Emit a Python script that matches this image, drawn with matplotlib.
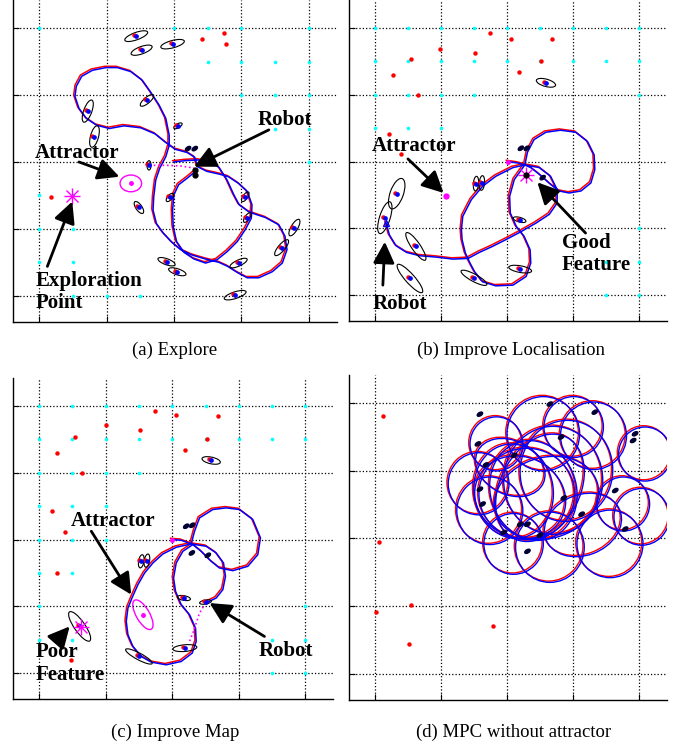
import matplotlib
matplotlib.use('Agg')
import matplotlib.pyplot as plt
from matplotlib.patches import Ellipse
from matplotlib.transforms import offset_copy

plt.rcParams['font.family'] = ['Liberation Serif', 'DejaVu Serif']

# ---------------- (a) Explore ----------------
a_path = [(20.0, 20.0), (21.7, 20.2), (23.6, 20.3), (25.3, 20.0), (26.7, 19.2), (27.9, 17.3),
          (28.9, 15.1), (29.7, 13.6), (31.2, 12.5), (33.6, 11.7), (35.6, 10.6), (36.5, 8.9),
          (36.8, 6.9), (36.1, 4.9), (34.6, 3.6), (32.6, 2.7), (30.9, 2.7), (29.4, 3.5),
          (28.0, 4.4), (26.7, 5.0), (24.7, 5.5), (22.7, 6.1), (21.0, 6.9), (19.7, 8.0),
          (18.4, 9.4), (17.4, 10.8), (16.9, 12.8), (17.0, 14.8), (17.3, 17.3), (17.9, 19.1),
          (18.8, 20.8), (19.3, 22.5), (19.3, 24.0), (18.8, 26.5), (17.8, 28.5), (16.5, 30.5),
          (15.3, 32.2), (13.6, 33.5), (11.6, 34.1), (9.9, 34.1), (7.9, 33.7), (6.3, 32.8),
          (5.5, 31.3), (5.3, 29.8), (5.9, 28.0), (7.0, 26.5), (8.5, 25.5), (10.4, 25.0),
          (12.6, 25.4), (15.1, 25.1), (17.2, 24.2), (18.8, 22.9), (20.2, 21.9), (22.0, 21.4),
          (23.1, 20.7), (23.5, 19.3), (24.9, 18.6), (26.7, 18.2), (28.1, 17.8), (29.6, 16.8),
          (30.9, 15.6), (31.6, 13.6), (31.5, 11.6), (30.6, 9.9), (29.4, 8.1), (27.9, 6.6),
          (26.4, 5.4), (24.7, 4.9), (23.0, 5.5), (21.5, 6.5), (20.4, 8.1), (19.9, 10.3),
          (19.8, 12.8), (20.0, 15.1), (20.7, 16.6), (22.0, 17.6), (23.2, 18.6)]
# ellipses: x, y, width, height, angle
a_ell = [(14.4, 38.8, 3.6, 1.1, 20), (15.2, 36.7, 3.3, 1.1, 20), (19.8, 37.6, 3.6, 1.1, 15),
         (7.2, 27.6, 3.5, 1.2, 70), (8.2, 23.8, 3.3, 1.2, 75), (16.0, 29.2, 2.5, 0.9, 40),
         (20.6, 25.4, 1.4, 0.6, 30), (16.3, 19.5, 1.4, 0.6, 90), (19.4, 14.7, 1.5, 0.7, 50),
         (14.8, 13.2, 2.1, 0.9, -55), (30.6, 14.8, 1.7, 0.7, 55), (30.9, 11.7, 1.7, 0.7, 55),
         (37.9, 10.2, 2.8, 1.0, 60), (36.0, 7.2, 3.0, 1.0, 50), (18.9, 5.1, 2.7, 0.9, -20),
         (20.5, 3.6, 2.7, 0.9, -18), (29.6, 4.9, 2.8, 0.9, 25), (29.1, 0.1, 3.4, 1.0, 18)]
a_dark = [(22.1, 22.0), (23.1, 22.0)]
a_robot = [(23.2, 18.8), (23.2, 18.0)]
a_red = [(24.1, 38.4), (27.4, 39.3), (27.8, 37.6), (1.7, 14.8)]
a_cyan = [(0, 40), (20, 40), (25, 40), (30, 40), (40, 40), (25, 35), (30, 35), (35, 35), (40, 35),
          (30, 30), (35, 30), (40, 30), (35, 25), (40, 25), (40, 20), (0, 15), (5, 15), (0, 10),
          (5, 10), (0, 5), (5, 5), (0, 0), (5, 0), (10, 0), (15, 0)]
a_plan = [(17.0, 19.5), (19.0, 19.5), (21.0, 19.4), (23.0, 19.1)]
a_attr = (13.6, 16.8, 3.2, 2.5, 0)
a_explore = (4.8, 14.9)

# ---------------- (b) Improve Localisation ----------------
b_path = [(20.1, 20.0), (21.6, 19.8), (22.7, 19.5), (23.1, 21.4), (24.1, 23.3), (25.9, 24.4),
          (28.1, 24.7), (30.4, 24.4), (32.2, 23.0), (33.2, 21.0), (33.3, 18.8), (32.7, 16.8),
          (31.2, 15.6), (29.4, 15.3), (27.9, 15.6), (26.6, 16.6), (24.9, 18.1), (23.6, 19.1),
          (22.7, 19.5), (21.1, 17.3), (20.4, 14.8), (20.5, 12.3), (21.4, 10.3), (22.6, 8.8),
          (23.5, 6.8), (23.6, 4.8), (22.9, 2.8), (20.9, 1.5), (18.3, 1.4), (16.3, 2.0),
          (15.1, 3.5), (14.4, 4.8), (13.7, 6.3), (13.2, 8.3), (13.1, 9.8), (13.3, 11.8),
          (14.6, 14.3), (16.3, 16.3), (18.3, 17.8), (20.9, 19.1), (22.7, 19.5), (24.9, 19.1),
          (26.6, 17.8), (27.6, 15.8), (27.6, 13.8), (26.4, 12.1), (24.4, 10.8), (22.1, 9.5),
          (19.8, 8.3), (17.8, 7.3), (15.8, 6.4), (14.1, 5.5), (11.8, 5.4), (9.3, 5.7),
          (6.8, 5.9), (4.8, 6.4), (3.2, 7.4), (2.2, 9.0), (1.7, 10.8)]
b_ell = [(25.9, 31.8, 3.0, 1.1, -15), (3.3, 15.2, 4.8, 2.0, 70), (1.5, 11.6, 5.0, 1.6, 72),
         (6.2, 7.3, 5.0, 1.3, -55), (5.3, 2.5, 5.6, 1.4, -48), (15.0, 2.6, 4.4, 1.1, -28),
         (22.0, 3.9, 3.5, 1.0, -10), (21.9, 11.3, 2.0, 0.7, -15), (15.3, 16.7, 2.2, 0.8, 85),
         (16.2, 16.8, 2.2, 0.8, 85)]
b_dark = [(22.1, 22.0), (23.0, 22.0), (25.4, 17.6)]
b_red = [(17.4, 39.2), (20.6, 38.4), (26.8, 38.4), (9.9, 36.9), (15.1, 36.3), (5.4, 35.3),
         (2.8, 32.9), (6.5, 29.9), (21.8, 33.4), (25.1, 35.1), (2.1, 24.2), (3.9, 21.1)]
b_cyan = ([(x, 40) for x in range(0, 45, 5)] + [(x, 35) for x in range(0, 45, 5)]
          + [(0, 30), (5, 30), (10, 30), (15, 30), (40, 30), (0, 25), (5, 25), (10, 25),
             (40, 10), (35, 5), (40, 5), (35, 0), (40, 0)])
b_attr = (10.8, 14.9)
b_good = (22.9, 18.0)

# ---------------- (c) Improve Map ----------------
c_path = [(19.95, 20.0), (21.35, 19.9), (22.85, 19.35), (23.35, 21.25), (24.1, 23.25),
          (26.1, 24.5), (28.1, 24.75), (30.1, 24.5), (32.1, 23.0), (33.25, 20.25),
          (32.85, 17.75), (31.35, 16.0), (29.1, 15.35), (27.1, 15.75), (25.85, 16.75),
          (24.35, 18.25), (23.1, 19.25), (21.6, 18.25), (20.6, 16.5), (20.2, 14.25),
          (20.5, 12.25), (21.35, 10.25), (22.6, 8.75), (23.5, 6.75), (23.6, 4.75), (23.0, 3.0),
          (21.35, 1.75), (19.1, 1.25), (16.85, 1.65), (15.35, 2.5), (14.1, 4.0), (13.35, 5.75),
          (13.1, 7.75), (13.35, 9.75), (14.0, 11.35), (14.85, 13.25), (15.85, 15.0),
          (17.1, 16.5), (18.6, 17.85), (20.6, 18.85), (22.85, 19.35), (25.1, 19.0), (26.6, 18.0),
          (27.7, 16.5), (28.0, 14.5), (27.6, 12.5), (26.6, 11.25), (25.35, 10.65)]
c_ell = [(25.85, 31.85, 2.8, 1.0, -12), (15.35, 16.75, 2.0, 0.8, 80), (16.2, 16.85, 2.0, 0.8, 80),
         (21.75, 11.25, 2.0, 0.7, -10), (25.0, 10.65, 1.8, 0.6, 10), (21.9, 3.75, 3.6, 1.0, 5),
         (15.0, 2.5, 4.5, 1.0, -28), (6.1, 7.0, 5.3, 1.6, -55)]
c_dark = [(22.1, 22.0), (23.0, 22.15), (22.95, 18.0), (25.35, 17.65)]
c_red = [(17.35, 39.25), (20.6, 38.6), (26.85, 38.5), (10.0, 37.1), (15.1, 36.35), (5.4, 35.4),
         (2.7, 33.0), (6.5, 29.9), (21.85, 33.4), (25.25, 35.1), (2.0, 24.25), (3.85, 21.1),
         (2.7, 15.0), (4.85, 1.9)]
c_cyan = ([(x, 40) for x in range(0, 45, 5)] + [(x, 35) for x in range(0, 45, 5)]
          + [(0, 30), (5, 30), (10, 30), (15, 30), (0, 25), (5, 25), (10, 25), (0, 20), (5, 20),
             (10, 20), (0, 15), (5, 15), (0, 10), (40, 10), (0, 5), (5, 5), (35, 5), (40, 5),
             (35, 0), (40, 0)])
c_plan = [(25.0, 10.5), (24.1, 9.0), (23.6, 7.5), (23.1, 6.0), (22.5, 4.5)]
c_attr = (15.6, 8.75, 5.0, 2.0, -60)
c_poor = (6.35, 6.85)

# ---------------- (d) MPC without attractor ----------------
d_loops = [(15.7, 28.1, 9.2, 9.2, 0), (17.4, 24.1, 10.0, 10.0, 0), (21.0, 19.2, 9.0, 9.0, 0),
           (26.5, 18.7, 10.4, 10.4, 0), (35.6, 19.2, 10.0, 10.0, 0), (40.4, 23.2, 8.4, 8.4, 0),
           (40.9, 32.5, 8.0, 8.0, 0), (25.5, 35.5, 11.0, 11.0, 0), (33.1, 35.2, 10.0, 10.0, 0),
           (18.4, 34.0, 8.0, 8.0, 0), (37.6, 25.1, 8.0, 8.0, 0), (30.1, 36.5, 9.0, 9.0, 0),
           (23.0, 26.6, 14.5, 13.5, 0), (24.0, 27.1, 13.0, 15.0, 20), (22.0, 26.1, 14.0, 12.0, -20),
           (27.0, 28.6, 15.0, 16.0, 0), (25.0, 27.5, 12.0, 17.0, -30), (21.0, 27.0, 12.0, 14.0, 10),
           (26.0, 26.0, 16.0, 12.0, 15), (29.0, 30.0, 14.0, 15.0, -10), (31.5, 22.0, 12.0, 9.0, 20),
           (20.5, 30.5, 11.0, 8.0, -25)]
d_dark = [(15.9, 38.4), (26.5, 39.9), (33.3, 38.7), (39.4, 35.5), (39.1, 34.5), (28.2, 35.0),
          (15.6, 34.0), (21.1, 32.3), (16.8, 30.9), (15.9, 27.3), (16.3, 25.1), (28.6, 26.0),
          (36.4, 27.1), (31.3, 23.6), (37.9, 21.4), (19.5, 20.9), (22.0, 22.1), (23.1, 22.1),
          (25.0, 20.5), (23.1, 18.1)]
d_red = [(1.25, 38.2), (0.65, 19.45), (5.4, 10.1), (0.15, 9.1), (5.1, 4.4), (17.9, 7.0)]

grid_vals = [0, 10, 20, 30, 40]


def setup(ax):
    ax.set_xlim(-3.9, 44.2)
    ax.set_ylim(-3.9, 44.2)
    ax.set_xticks(grid_vals)
    ax.set_yticks(grid_vals)
    ax.set_xticklabels([])
    ax.set_yticklabels([])
    ax.tick_params(direction='in', length=4, width=0.8)
    ax.grid(True, color='k', linestyle=':', linewidth=0.9)
    for s in ['top', 'right']:
        ax.spines[s].set_visible(False)
    for s in ['left', 'bottom']:
        ax.spines[s].set_linewidth(1.0)


def draw_path(ax, path):
    xs = [p[0] for p in path]
    ys = [p[1] for p in path]
    shifted = offset_copy(ax.transData, fig=ax.figure, x=-1.3, y=1.3, units='dots')
    ax.plot(xs, ys, color='red', lw=1.1, transform=shifted, zorder=3)
    ax.plot(xs, ys, color='blue', lw=1.1, zorder=4)


def draw_landmarks(ax, ells, red, cyan, dark):
    if cyan:
        ax.plot([p[0] for p in cyan], [p[1] for p in cyan], 'o', color='cyan', ms=2.6, mec='none', zorder=2)
    if red:
        ax.plot([p[0] for p in red], [p[1] for p in red], 'o', color='red', ms=3.2, mec='none', zorder=5)
    shifted = offset_copy(ax.transData, fig=ax.figure, x=-2, y=1, units='dots')
    for (x, y, w, h, ang) in ells:
        ax.add_patch(Ellipse((x, y), w, h, angle=ang, fill=False, ec='k', lw=0.8, zorder=5))
        ax.plot([x], [y], 'o', color='red', ms=3.2, mec='none', transform=shifted, zorder=5)
        ax.plot([x], [y], 'o', color='blue', ms=3.4, mec='none', zorder=6)
    for (x, y) in dark:
        ax.add_patch(Ellipse((x, y), 0.9, 0.5, angle=35, color='#000033', zorder=6))


def asterisk(ax, x, y):
    ax.plot(x, y, 'x', color='magenta', ms=9, mew=1.0, zorder=7)
    ax.plot(x, y, '+', color='magenta', ms=12, mew=1.0, zorder=7)


def label(ax, text, txy, tail, tip, ha='center'):
    ax.text(txy[0], txy[1], text, fontsize=15, fontweight='bold', ha=ha, va='center',
            linespacing=1.15, zorder=10)
    ax.annotate('', xy=tip, xytext=tail,
                arrowprops=dict(arrowstyle='-|>,head_length=0.5,head_width=0.25', color='k',
                                lw=2, mutation_scale=26, shrinkA=0, shrinkB=0), zorder=10)


fig = plt.figure(figsize=(6.86, 7.47), dpi=100)
ax_a = fig.add_axes([0.019, 0.569, 0.472, 0.431])
ax_b = fig.add_axes([0.509, 0.570, 0.463, 0.430])
ax_c = fig.add_axes([0.019, 0.064, 0.467, 0.430])
ax_d = fig.add_axes([0.509, 0.063, 0.463, 0.435])
for ax in [ax_a, ax_b, ax_c, ax_d]:
    setup(ax)

# (a)
draw_landmarks(ax_a, a_ell, a_red, a_cyan, a_dark)
draw_path(ax_a, a_path)
ax_a.plot([p[0] for p in a_plan], [p[1] for p in a_plan], ':', color='magenta', lw=1.2, zorder=4)
ax_a.plot([p[0] for p in a_robot], [p[1] for p in a_robot], 'o', color='k', ms=3.5, zorder=7)
ax_a.add_patch(Ellipse(a_attr[:2], a_attr[2], a_attr[3], angle=a_attr[4], fill=False, ec='magenta', lw=1.0))
ax_a.plot(a_attr[0], a_attr[1], 'o', color='magenta', ms=2.5)
asterisk(ax_a, *a_explore)
label(ax_a, 'Robot', (36.5, 26.3), (34.1, 24.8), (23.0, 19.3))
label(ax_a, 'Attractor', (5.6, 21.3), (5.9, 20.0), (11.9, 17.8))
label(ax_a, 'Exploration\nPoint', (-0.6, 0.55), (1.2, 4.4), (4.9, 14.1), ha='left')

# (b)
draw_landmarks(ax_b, b_ell, b_red, b_cyan, b_dark)
draw_path(ax_b, b_path)
ax_b.plot(20.1, 20.0, 'o', color='magenta', ms=2.5, zorder=7)
ax_b.plot(b_attr[0], b_attr[1], 'o', color='magenta', ms=3.5, zorder=7)
asterisk(ax_b, *b_good)
ax_b.plot(b_good[0], b_good[1], 'o', color='k', ms=3.5, zorder=8)
ax_b.plot(1.7, 10.8, '^', color='blue', ms=5, mfc='none', zorder=8)
label(ax_b, 'Attractor', (5.9, 22.4), (5.0, 20.4), (10.4, 15.3))
label(ax_b, 'Robot', (3.8, -1.3), (1.2, 1.5), (1.5, 8.0))
label(ax_b, 'Good\nFeature', (28.3, 6.2), (31.9, 9.3), (24.6, 16.9), ha='left')

# (c)
draw_landmarks(ax_c, c_ell, c_red, c_cyan, c_dark)
draw_path(ax_c, c_path)
ax_c.plot(19.95, 20.0, 'o', color='magenta', ms=2.5, zorder=7)
ax_c.plot([p[0] for p in c_plan], [p[1] for p in c_plan], ':', color='magenta', lw=1.2, zorder=4)
ax_c.add_patch(Ellipse(c_attr[:2], c_attr[2], c_attr[3], angle=c_attr[4], fill=False, ec='magenta', lw=1.0))
ax_c.plot(c_attr[0], c_attr[1], 'o', color='magenta', ms=2.5)
asterisk(ax_c, *c_poor)
label(ax_c, 'Attractor', (11.1, 22.75), (7.85, 21.25), (13.85, 11.75))
label(ax_c, 'Robot', (37.1, 3.25), (33.85, 5.5), (25.6, 10.5))
label(ax_c, 'Poor\nFeature', (-0.5, 1.45), (2.85, 5.0), (4.6, 7.0), ha='left')

# (d)
shifted_d = offset_copy(ax_d.transData, fig=fig, x=-1.3, y=1.3, units='dots')
for (x, y, w, h, ang) in d_loops:
    ax_d.add_patch(Ellipse((x, y), w, h, angle=ang, fill=False, ec='red', lw=1.0, transform=shifted_d, zorder=3))
    ax_d.add_patch(Ellipse((x, y), w, h, angle=ang, fill=False, ec='blue', lw=1.0, zorder=4))
ax_d.plot([p[0] for p in d_red], [p[1] for p in d_red], 'o', color='red', ms=3.2, mec='none')
for (x, y) in d_dark:
    ax_d.add_patch(Ellipse((x, y), 0.9, 0.5, angle=30, color='#000033', zorder=6))

captions = ['(a) Explore', '(b) Improve Localisation', '(c) Improve Map', '(d) MPC without attractor']
cap_pos = [(0.255, 0.531), (0.745, 0.531), (0.255, 0.019), (0.748, 0.019)]
for t, (x, y) in zip(captions, cap_pos):
    fig.text(x, y, t, fontsize=13.5, ha='center', va='center')

fig.savefig('out.png', dpi=100)
